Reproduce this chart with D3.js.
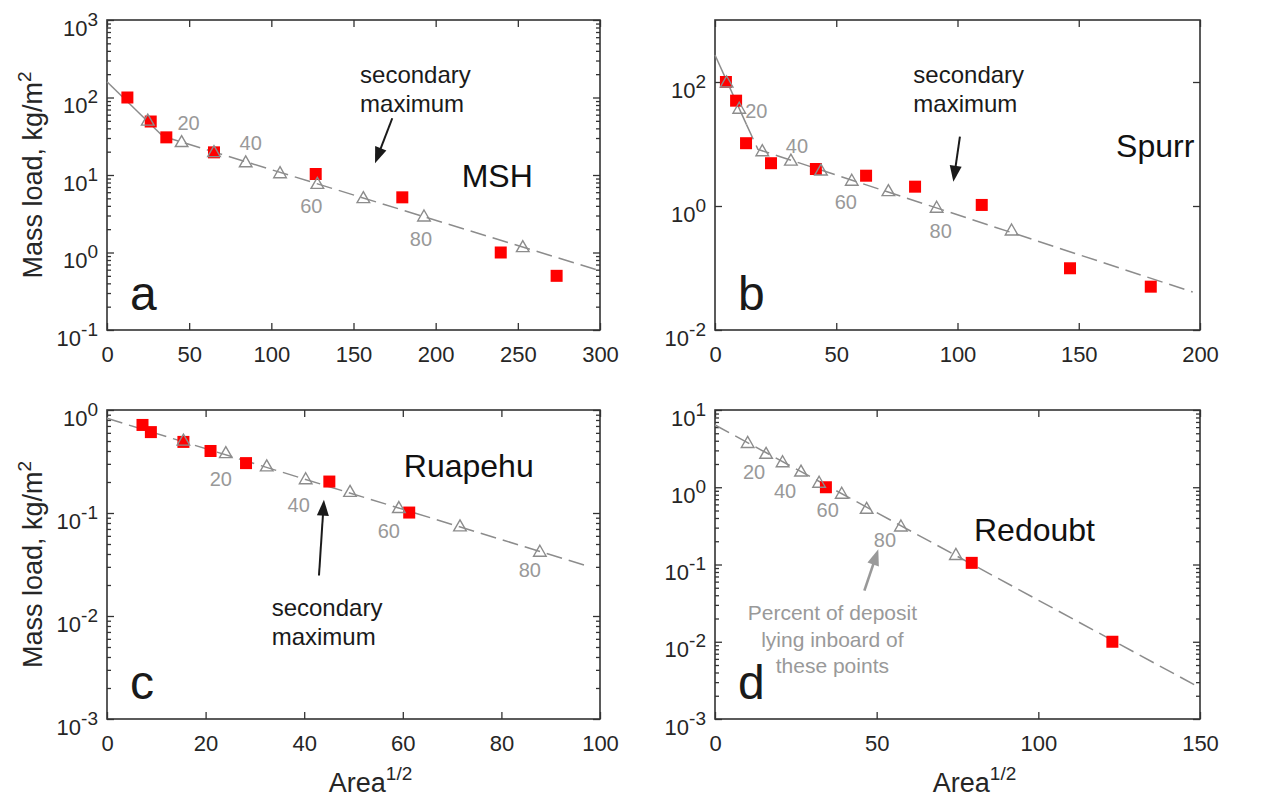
<!DOCTYPE html>
<html><head><meta charset="utf-8">
<script src="https://cdn.jsdelivr.net/npm/d3@7"></script>
<style>
body{margin:0;background:#fff}
svg text{font-family:"Liberation Sans",Arial,Helvetica,sans-serif}
</style>
</head><body>
<svg id="chart" width="1269" height="798"></svg>
<script>
// ---------- DATA ----------
// Panel a: Mount St. Helens
const mshSquareX = [12.4, 26.6, 36.1, 65.1, 127, 179.7, 239.6, 273.6];
const mshSquareY = [100, 49, 30.6, 19.6, 10.3, 5.15, 1.0, 0.5];
const mshTriX = [24.8, 45.4, 65.1, 84.4, 105.3, 128, 156, 192.9, 253];
const mshTriY = [51, 27, 20, 14.8, 10.7, 7.8, 5.1, 2.96, 1.19];
const mshTriPct = [10, 20, 30, 40, 50, 60, 70, 80, 90];
const mshFitX = [0, 34, 300];
const mshFitY = [160, 31.6, 0.58];
const mshXTicks = [0, 50, 100, 150, 200, 250, 300];
const mshYExp = [-1, 0, 1, 2, 3];

// Panel b: Spurr
const spurrSquareX = [4.5, 8.7, 12.8, 23.1, 41.6, 62.3, 82.5, 110, 146.4, 179.7];
const spurrSquareY = [100, 50, 10.3, 4.9, 3.95, 3.08, 2.05, 1.04, 0.099, 0.05];
const spurrTriX = [4.8, 10, 19.5, 31.3, 43.7, 56.4, 71.5, 91.4, 122.3];
const spurrTriY = [100, 37.7, 7.8, 5.5, 3.8, 2.6, 1.77, 0.955, 0.41];
const spurrTriPct = [10, 20, 30, 40, 50, 60, 70, 80, 90];
const spurrFitX = [0, 13, 17.7, 197];
const spurrFitY = [272, 20.5, 8.2, 0.041];
const spurrXTicks = [0, 50, 100, 150, 200];
const spurrYExp = [-2, 0, 2];

// Panel c: Ruapehu
const ruapehuSquareX = [7.2, 8.9, 15.5, 21.0, 28.2, 45.1, 61.3];
const ruapehuSquareY = [0.716, 0.61, 0.49, 0.40, 0.305, 0.202, 0.101];
const ruapehuTriX = [15.5, 24.1, 32.4, 40.3, 49.3, 59.2, 71.6, 87.8];
const ruapehuTriY = [0.51, 0.386, 0.287, 0.215, 0.162, 0.113, 0.075, 0.0425];
const ruapehuTriPct = [10, 20, 30, 40, 50, 60, 70, 80];
const ruapehuFitX = [0, 98];
const ruapehuFitY = [0.83, 0.030];
const ruapehuXTicks = [0, 20, 40, 60, 80, 100];
const ruapehuYExp = [-3, -2, -1, 0];

// Panel d: Redoubt
const redoubtSquareX = [34.3, 79.4, 122.9];
const redoubtSquareY = [1.0, 0.105, 0.01];
const redoubtTriX = [10.1, 15.8, 20.9, 26.6, 32.2, 39.2, 46.9, 57.5, 74.5];
const redoubtTriY = [3.8, 2.75, 2.14, 1.62, 1.16, 0.836, 0.534, 0.315, 0.135];
const redoubtTriPct = [10, 20, 30, 40, 50, 60, 70, 80, 90];
const redoubtFitX = [0, 149.5];
const redoubtFitY = [6.4, 0.0026];
const redoubtXTicks = [0, 50, 100, 150];
const redoubtYExp = [-3, -2, -1, 0, 1];

const labelledPct = [20, 40, 60, 80];

// ---------- LAYOUT / STYLE ----------
const AX = "#333333", TXT = "#262626", GRAY = "#8c8c8c", GRAYTXT = "#999999", RED = "#ff0000";
const svg = d3.select("#chart");

const panels = [
  {letter:"a", box:[107,20,600,330], xDom:[0,300], yDom:[0.1,1000], xTicks:mshXTicks, yExp:mshYExp, minor:true,
   sqX:mshSquareX, sqY:mshSquareY, trX:mshTriX, trY:mshTriY, pct:mshTriPct, fitX:mshFitX, fitY:mshFitY, solid:1,
   yLabel:true, xLabel:false, name:"MSH", nameAt:[215.8,7.06],
   pctOff:[[7,-19],[5,-19],[-6,23],[-3,23.5]],
   note:{at:[154,155], lines:["secondary","maximum"]}, arrow:{from:[173.6,54], to:[163.1,14.2], color:"#1a1a1a"}},
  {letter:"b", box:[715,20,1200,330], xDom:[0,200], yDom:[0.01,1000], xTicks:spurrXTicks, yExp:spurrYExp, minor:false,
   sqX:spurrSquareX, sqY:spurrSquareY, trX:spurrTriX, trY:spurrTriY, pct:spurrTriPct, fitX:spurrFitX, fitY:spurrFitY, solid:1,
   yLabel:false, xLabel:false, name:"Spurr", nameAt:[165.4,6.24],
   pctOff:[[17,3],[6,-14],[-6,22],[4,24]],
   note:{at:[81.8,95.2], lines:["secondary","maximum"]}, arrow:{from:[101,13.1], to:[98.3,2.47], color:"#1a1a1a"}},
  {letter:"c", box:[107,410,600,719], xDom:[0,100], yDom:[0.001,1], xTicks:ruapehuXTicks, yExp:ruapehuYExp, minor:true,
   sqX:ruapehuSquareX, sqY:ruapehuSquareY, trX:ruapehuTriX, trY:ruapehuTriY, pct:ruapehuTriPct, fitX:ruapehuFitX, fitY:ruapehuFitY, solid:0,
   yLabel:true, xLabel:true, name:"Ruapehu", nameAt:[60.2,0.226],
   pctOff:[[-5,26],[-7,26],[-10,23],[-10,19]],
   note:{at:[33.4,0.00998], lines:["secondary","maximum"]}, arrow:{from:[43,0.0247], to:[44,0.1345], color:"#1a1a1a"}},
  {letter:"d", box:[715,410,1200,719], xDom:[0,150], yDom:[0.001,10], xTicks:redoubtXTicks, yExp:redoubtYExp, minor:true,
   sqX:redoubtSquareX, sqY:redoubtSquareY, trX:redoubtTriX, trY:redoubtTriY, pct:redoubtTriPct, fitX:redoubtFitX, fitY:redoubtFitY, solid:0,
   yLabel:false, xLabel:true, name:"Redoubt", nameAt:[80.1,0.203],
   pctOff:[[-12,19],[-16,20],[-14,17],[-16,14]],
   grayNote:{at:[36.3,0.0191], lines:["Percent of deposit","lying inboard of","these points"]},
   arrow:{from:[46.2,0.0458], to:[50.5,0.157], color:"#999999", width:2.6}}
];

function drawArrow(g, x1, y1, x2, y2, color, w) {
  const dx = x2 - x1, dy = y2 - y1, L = Math.hypot(dx, dy);
  const ux = dx / L, uy = dy / L, hl = 16, hw = 6;
  const bx = x2 - ux * hl, by = y2 - uy * hl;
  g.append("line").attr("x1", x1).attr("y1", y1).attr("x2", bx + ux*2).attr("y2", by + uy*2)
    .attr("stroke", color).attr("stroke-width", w || 2);
  g.append("path").attr("d", `M${x2},${y2}L${bx - uy*hw},${by + ux*hw}L${bx + uy*hw},${by - ux*hw}Z`).attr("fill", color);
}

panels.forEach(p => {
  const [L, T, R, B] = p.box;
  const x = d3.scaleLinear().domain(p.xDom).range([L, R]);
  const y = d3.scaleLog().domain(p.yDom).range([B, T]);
  const g = svg.append("g");

  // minor ticks
  const lo = Math.round(Math.log10(p.yDom[0])), hi = Math.round(Math.log10(p.yDom[1]));
  const minors = [];
  if (p.minor) for (let e = lo; e < hi; e++) for (let m = 2; m <= 9; m++) minors.push(m * Math.pow(10, e));
  const majors = p.yExp.map(e => Math.pow(10, e));

  const styleAxis = sel => { sel.select(".domain").remove(); sel.selectAll("line").attr("stroke", AX).attr("stroke-width", 1.3); };

  g.append("g").attr("transform", `translate(0,${B})`)
    .call(d3.axisBottom(x).tickValues(p.xTicks).tickSizeInner(-7).tickSizeOuter(0).tickPadding(16).tickFormat(d3.format("d")))
    .call(styleAxis)
    .call(s => s.selectAll("text").attr("fill", TXT).style("font-size", "22px"));
  g.append("g").attr("transform", `translate(0,${T})`)
    .call(d3.axisTop(x).tickValues(p.xTicks).tickSizeInner(-7).tickSizeOuter(0).tickFormat(""))
    .call(styleAxis);
  [[L, d3.axisLeft], [R, d3.axisRight]].forEach(([xx, ax]) => {
    g.append("g").attr("transform", `translate(${xx},0)`)
      .call(ax(y).tickValues(majors).tickSizeInner(-7).tickSizeOuter(0).tickFormat("")).call(styleAxis);
    if (minors.length)
      g.append("g").attr("transform", `translate(${xx},0)`)
        .call(ax(y).tickValues(minors).tickSizeInner(-4).tickSizeOuter(0).tickFormat("")).call(styleAxis);
  });

  // y tick labels with superscripts
  p.yExp.forEach(e => {
    const t = g.append("text").attr("x", L - 9).attr("y", y(Math.pow(10, e)) + 15.5)
      .attr("text-anchor", "end").attr("fill", TXT).style("font-size", "22px");
    t.append("tspan").text("10");
    t.append("tspan").attr("dy", -10).style("font-size", "19px").text(e < 0 ? "-" + (-e) : String(e));
  });

  // frame
  g.append("rect").attr("x", L).attr("y", T).attr("width", R - L).attr("height", B - T)
    .attr("fill", "none").attr("stroke", AX).attr("stroke-width", 1.6);

  // fit line
  const pts = p.fitX.map((v, i) => [v, p.fitY[i]]);
  const line = d3.line().x(d => x(d[0])).y(d => y(d[1]));
  if (p.solid > 0) {
    g.append("path").attr("d", line(pts.slice(0, p.solid + 1))).attr("fill", "none")
      .attr("stroke", GRAY).attr("stroke-width", 1.5);
  }
  g.append("path").attr("d", line(pts.slice(p.solid))).attr("fill", "none")
    .attr("stroke", GRAY).attr("stroke-width", 1.5).attr("stroke-dasharray", "16,7");

  // squares
  p.sqX.forEach((v, i) => {
    g.append("rect").attr("x", x(v) - 6).attr("y", y(p.sqY[i]) - 6).attr("width", 12).attr("height", 12).attr("fill", RED);
  });
  // triangles
  p.trX.forEach((v, i) => {
    g.append("path").attr("transform", `translate(${x(v)},${y(p.trY[i])})`)
      .attr("d", "M0,-6L6.3,5L-6.3,5Z").attr("fill", "none").attr("stroke", GRAY).attr("stroke-width", 1.4);
  });
  // percent labels
  labelledPct.forEach((pc, k) => {
    const i = p.pct.indexOf(pc);
    if (i < 0) return;
    g.append("text").attr("x", x(p.trX[i]) + p.pctOff[k][0]).attr("y", y(p.trY[i]) + p.pctOff[k][1])
      .attr("text-anchor", "middle").attr("dominant-baseline", "central")
      .attr("fill", GRAYTXT).style("font-size", "20px").text(pc);
  });

  // panel letter
  g.append("text").attr("x", L + 23).attr("y", B - 20).attr("fill", "#1a1a1a").style("font-size", "48px").text(p.letter);
  // volcano name
  g.append("text").attr("x", x(p.nameAt[0])).attr("y", y(p.nameAt[1])).attr("fill", "#111").style("font-size", "32px").text(p.name);

  // annotations
  if (p.note) {
    const t = g.append("text").attr("x", x(p.note.at[0])).attr("y", y(p.note.at[1])).attr("fill", "#1a1a1a").style("font-size", "24px");
    p.note.lines.forEach((s, i) => t.append("tspan").attr("x", x(p.note.at[0])).attr("dy", i ? 29 : 0).text(s));
  }
  if (p.grayNote) {
    const t = g.append("text").attr("x", x(p.grayNote.at[0])).attr("y", y(p.grayNote.at[1])).attr("text-anchor", "middle")
      .attr("fill", GRAYTXT).style("font-size", "21px");
    p.grayNote.lines.forEach((s, i) => t.append("tspan").attr("x", x(p.grayNote.at[0])).attr("dy", i ? 26.5 : 0).text(s));
  }
  if (p.arrow) drawArrow(g, x(p.arrow.from[0]), y(p.arrow.from[1]), x(p.arrow.to[0]), y(p.arrow.to[1]), p.arrow.color, p.arrow.width);

  // axis labels
  if (p.yLabel) {
    const cy = (T + B) / 2;
    const t = g.append("text").attr("transform", `translate(42,${cy}) rotate(-90)`).attr("text-anchor", "middle")
      .attr("fill", TXT).style("font-size", "27px");
    t.append("tspan").text("Mass load, kg/m");
    t.append("tspan").attr("dy", -11).style("font-size", "19px").text("2");
  }
  if (p.xLabel) {
    const cx = (L + R) / 2 + 17;
    const t = g.append("text").attr("x", cx).attr("y", B + 73).attr("text-anchor", "middle")
      .attr("fill", TXT).style("font-size", "27px");
    t.append("tspan").text("Area");
    t.append("tspan").attr("dy", -12).style("font-size", "19px").text("1/2");
  }
});
</script>
</body></html>
